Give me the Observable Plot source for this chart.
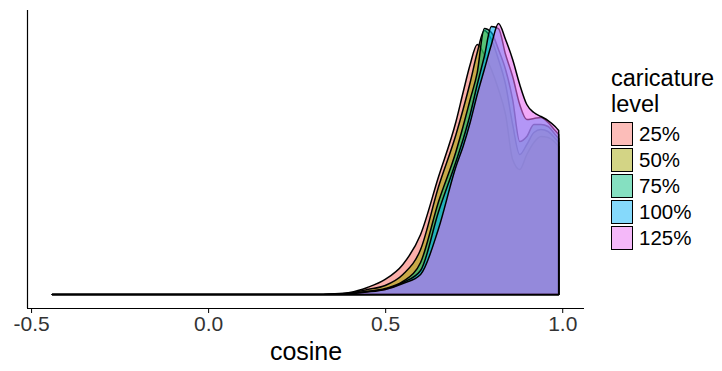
<!DOCTYPE html>
<html>
<head>
<meta charset="utf-8">
<script src="https://cdn.jsdelivr.net/npm/d3@7"></script>
<script src="https://cdn.jsdelivr.net/npm/@observablehq/plot@0.6"></script>
<style>
  html, body { margin: 0; padding: 0; background: #fff; }
  #wrap { position: relative; width: 722px; height: 371px; font-family: "Liberation Sans", Arial, sans-serif; }
  #legend { position: absolute; left: 611px; top: 65px; color: #000; }
  #legend .title { font-size: 23.5px; line-height: 26px; margin-bottom: 4px; }
  #legend .row { display: flex; align-items: center; height: 26px; }
  #legend .sw { width: 20px; height: 22px; border: 1.5px solid #000; box-sizing: content-box; }
  #legend .lab { font-size: 20.5px; margin-left: 6px; }
</style>
</head>
<body>
<div id="wrap"><div id="chart"></div><div id="legend"></div></div>
<script>
const levels = ["25%", "50%", "75%", "100%", "125%"];
const colors = ["#F8766D", "#A3A500", "#00BF7D", "#00B0F6", "#E76BF3"];
const cosine = [-0.44, 0.0, 0.30, 0.35, 0.40, 0.45, 0.50, 0.55, 0.60, 0.65, 0.70, 0.72, 0.74, 0.76, 0.78, 0.80, 0.82, 0.84, 0.86, 0.88, 0.90, 0.92, 0.94, 0.96, 0.98, 0.99];
const d25  = [0, 0, 0, 0.005, 0.02, 0.07, 0.15, 0.30, 0.60, 1.17, 1.73, 2.02, 2.30, 2.50, 2.40, 2.25, 2.05, 1.80, 1.35, 1.25, 1.40, 1.52, 1.58, 1.57, 1.52, 1.48];
const d50  = [0, 0, 0, 0.003, 0.015, 0.05, 0.09, 0.20, 0.45, 1.07, 1.60, 1.85, 2.12, 2.42, 2.64, 2.55, 2.35, 2.10, 1.70, 1.40, 1.50, 1.62, 1.65, 1.63, 1.56, 1.52];
const d75  = [0, 0, 0, 0.002, 0.01, 0.03, 0.06, 0.13, 0.32, 0.92, 1.43, 1.68, 1.95, 2.22, 2.66, 2.62, 2.45, 2.25, 1.95, 1.53, 1.58, 1.70, 1.70, 1.68, 1.60, 1.56];
const d100 = [0, 0, 0, 0.002, 0.01, 0.03, 0.05, 0.12, 0.24, 0.82, 1.33, 1.55, 1.80, 2.10, 2.38, 2.68, 2.66, 2.40, 2.18, 1.90, 1.75, 1.76, 1.77, 1.72, 1.64, 1.60];
const d125 = [0, 0, 0, 0.002, 0.01, 0.025, 0.05, 0.11, 0.20, 0.65, 1.28, 1.48, 1.72, 2.00, 2.25, 2.50, 2.71, 2.55, 2.35, 2.10, 1.90, 1.82, 1.78, 1.74, 1.68, 1.64];
const xTicks = [-0.5, 0.0, 0.5, 1.0];

const series = [d25, d50, d75, d100, d125];
const data = [];
series.forEach((s, i) => s.forEach((v, j) => data.push({level: levels[i], cosine: cosine[j], density: v})));

const xMin = d3.min(cosine), xMax = d3.max(cosine);
const xPad = (xMax - xMin) * 0.05;
const xDomain = [xMin - xPad, xMax + xPad];
const yMax = d3.max(data, d => d.density);
const yDomain = [-0.05 * yMax, 1.05 * yMax];
const areaAlpha = 0.58;
const keyAlpha = 0.48;

const chart = Plot.plot({
  width: 598,
  height: 371,
  marginLeft: 27,
  marginRight: 14,
  marginTop: 10,
  marginBottom: 63,
  style: {fontFamily: "Liberation Sans, Arial, sans-serif", background: "#fff"},
  x: {domain: xDomain, label: null},
  y: {domain: yDomain, axis: null},
  color: {domain: levels, range: colors},
  marks: [
    Plot.areaY(data, {x: "cosine", y1: () => 0, y2: "density", z: "level", fill: "level", fillOpacity: areaAlpha,
      stroke: "#000", strokeWidth: 1.5, curve: "monotone-x"}),
    Plot.ruleX([xDomain[0]], {stroke: "#000", strokeWidth: 1.2}),
    Plot.ruleY([yDomain[0]], {stroke: "#000", strokeWidth: 1.2}),
    Plot.axisX(xTicks, {tickSize: 5, tickPadding: 3, fontSize: 21, tickFormat: d => d.toFixed(1),
      stroke: "#000", fill: "#333", label: null}),
    Plot.text(["cosine"], {frameAnchor: "bottom", dy: 51, fontSize: 25, fill: "#000"})
  ]
});
document.getElementById("chart").appendChild(chart);

const legend = document.getElementById("legend");
const t = document.createElement("div");
t.className = "title";
t.innerHTML = "caricature<br>level";
legend.appendChild(t);
levels.forEach((lv, i) => {
  const row = document.createElement("div");
  row.className = "row";
  const sw = document.createElement("div");
  sw.className = "sw";
  const c = d3.color(colors[i]); c.opacity = keyAlpha;
  sw.style.background = c.formatRgb();
  const lab = document.createElement("span");
  lab.className = "lab";
  lab.textContent = lv;
  row.appendChild(sw); row.appendChild(lab);
  legend.appendChild(row);
});
</script>
</body>
</html>
